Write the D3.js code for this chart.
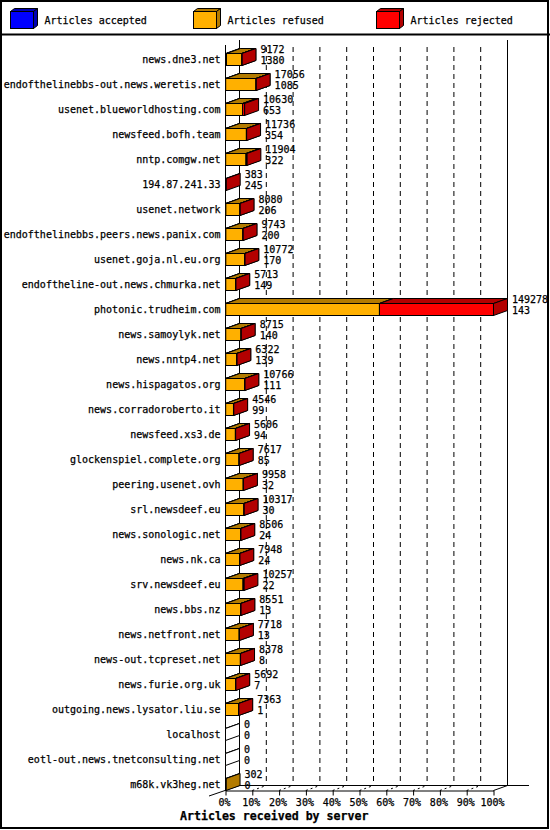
<!DOCTYPE html>
<html>
<head>
<meta charset="utf-8">
<script src="https://cdn.jsdelivr.net/npm/d3@7"></script>
<style>
  body { margin: 0; background: #fff; }
  text { font-family: "DejaVu Sans Mono", monospace; font-size: 10px; fill: #000; stroke: #000; stroke-width: 0.25px; }
</style>
</head>
<body>
<svg id="chart"></svg>
<script>
// servers, in the order they are drawn (top to bottom)
const servers = [
  'news.dne3.net', 'endofthelinebbs-out.news.weretis.net', 'usenet.blueworldhosting.com',
  'newsfeed.bofh.team', 'nntp.comgw.net', '194.87.241.33', 'usenet.network',
  'endofthelinebbs.peers.news.panix.com', 'usenet.goja.nl.eu.org',
  'endoftheline-out.news.chmurka.net', 'photonic.trudheim.com', 'news.samoylyk.net',
  'news.nntp4.net', 'news.hispagatos.org', 'news.corradoroberto.it', 'newsfeed.xs3.de',
  'glockenspiel.complete.org', 'peering.usenet.ovh', 'srl.newsdeef.eu',
  'news.sonologic.net', 'news.nk.ca', 'srv.newsdeef.eu', 'news.bbs.nz',
  'news.netfront.net', 'news-out.tcpreset.net', 'news.furie.org.uk',
  'outgoing.news.lysator.liu.se', 'localhost', 'eotl-out.news.tnetconsulting.net',
  'm68k.vk3heg.net'
];

// numbers printed at the end of each bar
const topLabels = [9172, 17056, 10630, 11736, 11904, 383, 8080, 9743, 10772, 5713,
  149278, 8715, 6322, 10766, 4546, 5606, 7617, 9958, 10317, 8506,
  7948, 10257, 8551, 7718, 8378, 5692, 7363, 0, 0, 302];
const bottomLabels = [1380, 1085, 653, 354, 322, 245, 206, 200, 170, 149,
  143, 140, 139, 111, 99, 94, 85, 32, 30, 24,
  24, 22, 13, 13, 8, 7, 1, 0, 0, 0];

// stacked segments, estimated from the bar pieces
const accepted = [560, 100, 100, 100, 100, 0, 206, 200, 170, 149,
  143, 140, 139, 111, 99, 94, 85, 32, 30, 24,
  24, 22, 13, 13, 8, 7, 1, 0, 0, 0];
const refused = [8512, 16856, 9430, 11536, 11304, 0, 7774, 9443, 10502, 5464,
  85600, 8475, 6083, 10555, 4347, 5412, 7432, 9826, 10187, 8382,
  7824, 9735, 8438, 7605, 8270, 5585, 7262, 0, 0, 302];
const rejected = [100, 100, 1100, 100, 500, 383, 100, 100, 100, 100,
  63535, 100, 100, 100, 100, 100, 100, 100, 100, 100,
  100, 500, 100, 100, 100, 100, 100, 0, 0, 0];

const seriesNames = ['Articles accepted', 'Articles refused', 'Articles rejected'];
const seriesColors = ['#0000ff', '#ffb000', '#ff0000'];
const pctTicks = [0, 10, 20, 30, 40, 50, 60, 70, 80, 90, 100];

const width = 550, height = 830;
const depth = {x: 14, y: -5};
const barHeight = 12;

const svg = d3.select('#chart')
  .attr('width', width)
  .attr('height', height);

svg.append('rect')
  .attr('x', 1).attr('y', 1)
  .attr('width', width - 3).attr('height', height - 3)
  .attr('fill', '#fff').attr('stroke', '#000').attr('stroke-width', 2);

svg.append('line')
  .attr('x1', 0).attr('x2', width)
  .attr('y1', 34.5).attr('y2', 34.5)
  .attr('stroke', '#000').attr('stroke-width', 2);

// a 3d box: front, top and right side
function drawBox(g, x0, x1, yTop, h, color, dx, dy) {
  const dark = color === '#fff' ? '#fff' : d3.color(color).darker(1).formatHex();
  g.append('polygon')
    .attr('points', [[x0, yTop], [x1, yTop], [x1 + dx, yTop + dy], [x0 + dx, yTop + dy]].join(' '))
    .attr('fill', dark).attr('stroke', '#000');
  g.append('polygon')
    .attr('points', [[x1, yTop], [x1 + dx, yTop + dy], [x1 + dx, yTop + h + dy], [x1, yTop + h]].join(' '))
    .attr('fill', dark).attr('stroke', '#000');
  g.append('rect')
    .attr('x', x0).attr('y', yTop)
    .attr('width', Math.max(0, x1 - x0)).attr('height', h)
    .attr('fill', color).attr('stroke', '#000');
}

// legend
const legend = svg.append('g');
seriesNames.forEach((name, i) => {
  const lx = 10.5 + i * 183;
  drawBox(legend, lx, lx + 23, 11.5, 17, seriesColors[i], 4, -3);
  legend.append('text')
    .attr('x', lx + 34)
    .attr('y', 24)
    .text(name);
});

// scales
const total = servers.map((s, i) => accepted[i] + refused[i] + rejected[i]);
const xScale = d3.scaleLinear()
  .domain([0, d3.max(total)])
  .range([225.5, 493.5]);
const pctScale = d3.scaleLinear()
  .domain([0, 100])
  .range([225.5, 493.5]);
const yScale = d3.scaleBand()
  .domain(servers)
  .range([53.5, 53.5 + 25 * servers.length]);

const floorY = 790.5;
const backTop = 40;

// back wall grid
const grid = svg.append('g');
pctTicks.forEach(p => {
  const bx = pctScale(p) + depth.x;
  const solid = (p === 0 || p === 100);
  grid.append('line')
    .attr('x1', bx).attr('x2', bx)
    .attr('y1', solid ? backTop : 47).attr('y2', floorY + depth.y)
    .attr('stroke', '#000')
    .attr('stroke-dasharray', solid ? null : '5,4');
  if (!solid) {
    grid.append('line')
      .attr('x1', pctScale(p)).attr('y1', floorY)
      .attr('x2', bx).attr('y2', floorY + depth.y)
      .attr('stroke', '#000')
      .attr('stroke-dasharray', '2,3');
  }
});
grid.append('line')
  .attr('x1', pctScale(0) + depth.x).attr('x2', 529)
  .attr('y1', floorY + depth.y).attr('y2', floorY + depth.y)
  .attr('stroke', '#000');
grid.append('line')
  .attr('x1', 209).attr('y1', 796)
  .attr('x2', pctScale(0) + depth.x).attr('y2', floorY + depth.y)
  .attr('stroke', '#000');
grid.append('line')
  .attr('x1', pctScale(100)).attr('y1', floorY)
  .attr('x2', pctScale(100) + depth.x).attr('y2', floorY + depth.y)
  .attr('stroke', '#000');
// front edge of the left wall
grid.append('line')
  .attr('x1', pctScale(0)).attr('x2', pctScale(0))
  .attr('y1', backTop - depth.y).attr('y2', floorY)
  .attr('stroke', '#000');

// bars
const bars = svg.append('g');
servers.forEach((s, i) => {
  const yTop = yScale(s);
  const parts = [accepted[i], refused[i], rejected[i]];
  if (total[i] === 0) {
    drawBox(bars, xScale(0), xScale(0), yTop, barHeight, '#fff', depth.x, depth.y);
    return;
  }
  let cum = 0;
  parts.forEach((v, k) => {
    if (v <= 0) return;
    drawBox(bars, xScale(cum), xScale(cum + v), yTop, barHeight, seriesColors[k], depth.x, depth.y);
    cum += v;
  });
});

// labels
const labels = svg.append('g');
servers.forEach((s, i) => {
  const yTop = yScale(s);
  labels.append('text')
    .attr('x', 220.5)
    .attr('y', yTop + 9)
    .attr('text-anchor', 'end')
    .text(s);
  const lx = xScale(total[i]) + 18.5;
  labels.append('text')
    .attr('x', lx).attr('y', yTop - 0.5)
    .text(topLabels[i]);
  labels.append('text')
    .attr('x', lx).attr('y', yTop + 10.5)
    .text(bottomLabels[i]);
});

// x axis on the front edge of the floor
const xAxis = d3.axisBottom(pctScale)
  .tickValues(pctTicks)
  .tickFormat(d => d + '%')
  .tickSize(5)
  .tickSizeOuter(0);

const axisG = svg.append('g')
  .attr('transform', `translate(0, ${floorY})`)
  .call(xAxis)
  .attr('font-family', null)
  .attr('font-size', null);
axisG.selectAll('text').attr('dx', '-1.5');

svg.append('text')
  .attr('x', 180)
  .attr('y', 820)
  .style('font-weight', 'bold')
  .style('font-size', '11.6px')
  .text('Articles received by server');
</script>
</body>
</html>
